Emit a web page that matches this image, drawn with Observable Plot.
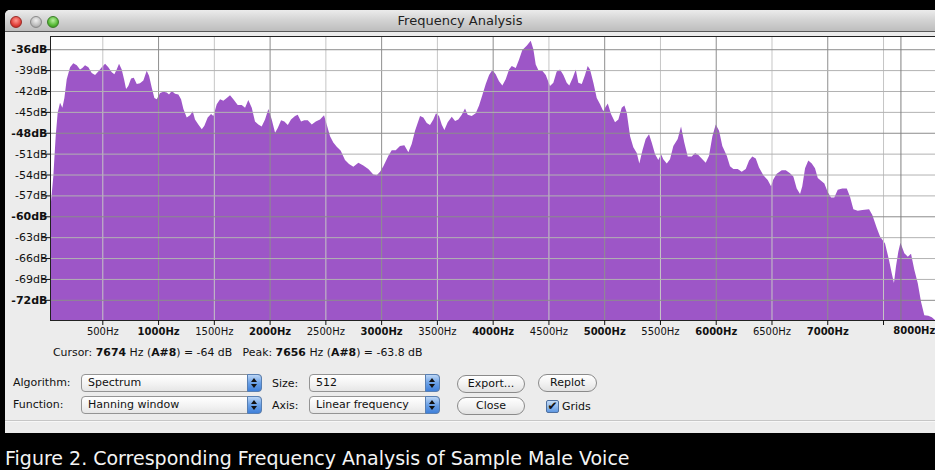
<!DOCTYPE html>
<html><head><meta charset="utf-8">
<script src="https://cdn.jsdelivr.net/npm/d3@7"></script>
<script src="https://cdn.jsdelivr.net/npm/@observablehq/plot@0.6"></script>
<style>
html,body{margin:0;padding:0;background:#000;}
#page{position:relative;width:935px;height:470px;overflow:hidden;background:#000;font-family:"DejaVu Sans",Verdana,sans-serif;color:#111;}
#win{position:absolute;left:5px;top:10px;width:940px;height:423px;background:#ececec;border-top-left-radius:5px;}
#titlebar{position:absolute;left:5px;top:10px;width:940px;height:21px;background:linear-gradient(#ececec,#d2d2d2 50%,#bdbdbd);border-bottom:1px solid #5a5a5a;border-top-left-radius:5px;}
#title{position:absolute;left:0;top:13px;width:920px;text-align:center;font-size:13px;line-height:16px;color:#222;}
.dot{position:absolute;top:16px;width:12px;height:12px;border-radius:50%;box-sizing:border-box;}
#chart{position:absolute;left:0;top:32px;}
.lbl{position:absolute;font-size:11px;line-height:14px;white-space:nowrap;}
.sel{position:absolute;height:18px;border:1px solid #949494;border-radius:4px;background:linear-gradient(#fff,#f4f4f4 50%,#e6e6e6);box-sizing:border-box;font-size:11px;line-height:15px;padding-left:6px;white-space:nowrap;}
.step{position:absolute;right:-1px;top:-1px;width:15px;height:18px;box-sizing:border-box;background:linear-gradient(#bcd6f5,#6aa0e6 50%,#3f80da);border:1px solid #587fb2;border-radius:0 4px 4px 0;}
.step:before,.step:after{content:"";position:absolute;left:3px;border-left:3.5px solid transparent;border-right:3.5px solid transparent;}
.step:before{top:3px;border-bottom:4px solid #111;}
.step:after{top:9px;border-top:4px solid #111;}
.btn{position:absolute;height:18px;border:1px solid #8a8a8a;border-radius:9px;background:linear-gradient(#fff,#f2f2f2 50%,#e2e2e2);text-align:center;font-size:11px;line-height:16px;box-sizing:border-box;}
.chk{position:absolute;width:13px;height:13px;box-sizing:border-box;border:1px solid #4d6f9f;border-radius:2px;background:linear-gradient(#c4dcf7,#5f98e2);font-size:12px;line-height:11px;text-align:center;color:#111;}
#sep{position:absolute;left:5px;top:420px;width:930px;height:1px;background:#c6c6c6;border-bottom:1px solid #f7f7f7;}
#cursor{position:absolute;left:53px;top:346px;font-size:10.9px;line-height:14px;white-space:pre;}
#caption{position:absolute;left:5px;top:447px;font-size:19px;line-height:22px;color:#f4f4f4;white-space:nowrap;}
</style></head>
<body>
<div id="page">
  <div id="win"></div>
  <div id="titlebar"></div>
  <div class="dot" style="left:10px;background:radial-gradient(circle at 50% 35%,#ff9a92,#e0403a 60%,#a51d18);border:1px solid #9b2a25"></div>
  <div class="dot" style="left:30px;background:radial-gradient(circle at 50% 35%,#f0f0f0,#bdbdbd 60%,#8e8e8e);border:1px solid #8a8a8a"></div>
  <div class="dot" style="left:47px;background:radial-gradient(circle at 50% 35%,#b8f0a0,#55b834 60%,#2f7d18);border:1px solid #3a7d27"></div>
  <div id="title">Frequency Analysis</div>
  <div id="chart"></div>
  <div id="cursor">Cursor: <b>7674</b> Hz (<b>A#8</b>) = -64 dB   Peak: <b>7656</b> Hz (<b>A#8</b>) = -63.8 dB</div>
  <div class="lbl" style="left:13px;top:376px">Algorithm:</div>
  <div class="sel" style="left:81px;top:374px;width:181px">Spectrum<i class="step"></i></div>
  <div class="lbl" style="left:272px;top:377px">Size:</div>
  <div class="sel" style="left:309px;top:374px;width:131px">512<i class="step"></i></div>
  <div class="btn" style="left:457px;top:375px;width:68px">Export...</div>
  <div class="btn" style="left:538px;top:374px;width:59px">Replot</div>
  <div class="lbl" style="left:13px;top:398px">Function:</div>
  <div class="sel" style="left:81px;top:396px;width:181px">Hanning window<i class="step"></i></div>
  <div class="lbl" style="left:272px;top:399px">Axis:</div>
  <div class="sel" style="left:309px;top:396px;width:131px">Linear frequency<i class="step"></i></div>
  <div class="btn" style="left:457px;top:397px;width:68px">Close</div>
  <div class="chk" style="left:546px;top:400px">✔</div>
  <div class="lbl" style="left:562px;top:400px">Grids</div>
  <div id="sep"></div>
  <div id="caption">Figure 2. Corresponding Frequency Analysis of Sample Male Voice</div>
</div>
<script>
const freqHz = [31, 61, 82, 100, 121, 142, 160, 181, 211, 240, 271, 300, 321, 345, 375, 405, 435, 464, 495, 525, 554, 585, 608, 629, 650, 674, 695, 713, 733, 758, 782, 809, 838, 868, 898, 919, 943, 967, 988, 1018, 1047, 1078, 1098, 1123, 1152, 1182, 1206, 1227, 1257, 1287, 1311, 1331, 1361, 1392, 1415, 1445, 1475, 1496, 1526, 1556, 1585, 1616, 1645, 1675, 1714, 1750, 1780, 1809, 1840, 1869, 1899, 1929, 1959, 1989, 2019, 2049, 2073, 2103, 2132, 2163, 2192, 2228, 2252, 2282, 2311, 2342, 2378, 2414, 2452, 2488, 2512, 2542, 2571, 2602, 2638, 2676, 2712, 2751, 2796, 2840, 2885, 2930, 2961, 2990, 3020, 3065, 3095, 3131, 3169, 3208, 3244, 3274, 3304, 3349, 3378, 3409, 3438, 3468, 3492, 3519, 3543, 3567, 3597, 3633, 3663, 3692, 3723, 3752, 3776, 3812, 3848, 3878, 3907, 3938, 3968, 3997, 4027, 4057, 4087, 4117, 4147, 4171, 4207, 4236, 4266, 4305, 4341, 4365, 4386, 4409, 4445, 4476, 4514, 4544, 4574, 4604, 4634, 4664, 4687, 4718, 4745, 4768, 4799, 4828, 4852, 4873, 4903, 4933, 4963, 4992, 5008, 5032, 5061, 5097, 5127, 5157, 5181, 5202, 5232, 5261, 5292, 5315, 5342, 5372, 5402, 5426, 5456, 5485, 5510, 5530, 5561, 5590, 5620, 5659, 5689, 5718, 5749, 5785, 5815, 5844, 5880, 5910, 5940, 5970, 6000, 6030, 6059, 6099, 6128, 6158, 6197, 6233, 6269, 6299, 6328, 6359, 6388, 6427, 6466, 6496, 6516, 6547, 6592, 6628, 6666, 6696, 6726, 6756, 6776, 6801, 6830, 6861, 6890, 6915, 6944, 6974, 7004, 7034, 7063, 7094, 7135, 7175, 7204, 7234, 7273, 7315, 7375, 7404, 7444, 7473, 7518, 7554, 7578, 7598, 7616, 7637, 7656, 7691, 7722, 7751, 7781, 7811, 7841, 7870, 7906, 7937, 7966];
const levelDb = [-59.5, -54.2, -48.5, -45.1, -43.7, -44.4, -43.0, -40.3, -38.6, -38.0, -38.3, -38.9, -38.7, -38.3, -38.6, -39.4, -39.7, -39.2, -38.6, -38.1, -38.6, -39.3, -39.6, -38.9, -38.1, -38.9, -40.3, -41.7, -41.3, -40.2, -40.1, -41.0, -40.9, -40.5, -39.1, -39.8, -41.5, -43.0, -43.2, -42.3, -42.1, -42.2, -42.5, -42.0, -42.4, -42.5, -43.2, -44.6, -45.8, -45.5, -44.9, -46.1, -46.8, -47.5, -47.0, -45.8, -45.3, -45.6, -43.9, -43.2, -43.4, -43.0, -42.6, -43.2, -44.0, -44.0, -44.4, -43.3, -44.4, -46.4, -46.8, -47.1, -46.1, -44.6, -46.1, -48.0, -47.3, -46.2, -46.4, -46.9, -46.1, -45.6, -45.4, -46.4, -46.2, -46.2, -46.8, -46.4, -46.1, -45.5, -46.8, -48.5, -49.4, -50.0, -50.6, -51.9, -52.5, -52.9, -52.3, -52.7, -53.2, -54.0, -54.1, -53.6, -52.8, -51.3, -50.5, -50.5, -49.9, -49.8, -50.8, -49.6, -47.7, -45.6, -45.8, -46.6, -46.9, -46.1, -45.2, -45.6, -46.8, -47.6, -46.5, -45.7, -46.3, -46.1, -45.4, -44.5, -45.4, -45.6, -45.2, -44.1, -42.6, -41.0, -39.7, -39.0, -39.6, -40.6, -41.2, -40.3, -38.9, -38.4, -38.7, -37.5, -36.1, -35.5, -34.8, -36.0, -38.2, -39.0, -39.1, -39.7, -41.3, -40.8, -39.2, -38.9, -39.7, -40.8, -41.2, -40.1, -38.9, -40.8, -41.0, -39.7, -38.4, -38.9, -40.8, -43.0, -43.9, -44.9, -44.4, -43.8, -45.3, -46.5, -46.1, -44.4, -44.1, -45.1, -48.5, -50.1, -50.9, -52.4, -50.6, -48.9, -48.2, -49.4, -51.1, -51.9, -51.1, -51.8, -52.4, -51.8, -49.9, -48.9, -47.1, -49.4, -51.4, -51.4, -50.9, -51.2, -51.8, -52.3, -51.3, -48.5, -46.8, -47.7, -49.9, -51.3, -52.8, -53.2, -53.2, -53.6, -53.2, -52.0, -51.4, -51.7, -53.0, -54.1, -54.8, -55.7, -54.7, -53.9, -53.4, -53.4, -53.8, -54.3, -56.0, -56.8, -55.7, -53.1, -52.0, -52.4, -53.1, -54.5, -54.9, -55.3, -56.5, -57.3, -57.3, -56.2, -56.0, -56.0, -57.2, -59.0, -59.2, -59.1, -59.0, -59.8, -61.7, -62.9, -63.9, -66.3, -68.2, -69.6, -67.2, -65.1, -63.8, -65.3, -65.8, -65.4, -67.7, -69.6, -72.3, -74.2, -74.3, -74.5, -74.9];
const xTicksMajor = [1000, 2000, 3000, 4000, 5000, 6000, 7000];
const xTicksMinor = [500, 1500, 2500, 3500, 4500, 5500, 6500, 7500];
const xUnlabeled = [7500];
const xEdgeLabel = [8000];
const yTicksMajor = [-36, -48, -60, -72];
const yTicksMinor = [-39, -42, -45, -51, -54, -57, -63, -66, -69];
const xDomain = [31, 7966];
const yDomain = [-74.9, -34.1];
const cursorHz = [7656];

const spectrum = freqHz.map((f, i) => ({f, db: levelDb[i]}));
const font = "DejaVu Sans, Verdana, sans-serif";

const chart = Plot.plot({
  width: 935, height: 310,
  marginTop: 4, marginBottom: 22, marginLeft: 50, marginRight: 0,
  style: {background: "transparent", fontFamily: font, fontSize: "10px", color: "#111", overflow: "visible"},
  x: {domain: xDomain},
  y: {domain: yDomain},
  marks: [
    Plot.frame({fill: "white", stroke: null}),
    Plot.areaY(spectrum, {x: "f", y1: yDomain[0], y2: "db", fill: "#9d56c7"}),
    Plot.gridX(xTicksMinor, {stroke: "#c6c6c6", strokeOpacity: 1}),
    Plot.gridX(xTicksMajor, {stroke: "#8e8e8e", strokeOpacity: 1}),
    Plot.gridY(yTicksMinor, {stroke: "#b2b2b2", strokeOpacity: 1}),
    Plot.gridY(yTicksMajor, {stroke: "#8c8c8c", strokeOpacity: 1}),
    Plot.ruleX(cursorHz, {stroke: "#808080"}),
    Plot.ruleX([xDomain[0]], {stroke: "#222"}),
    Plot.ruleY(yDomain, {stroke: "#222"}),
    Plot.axisX(xTicksMajor, {tickSize: 5, tickPadding: 2, tickFormat: d => `${d}Hz`, fontWeight: "bold", label: null}),
    Plot.axisX(xTicksMinor, {tickSize: 5, tickPadding: 2, tickFormat: d => xUnlabeled.includes(d) ? "" : `${d}Hz`, label: null}),
    Plot.text(xEdgeLabel, {x: d => d, frameAnchor: "bottom", lineAnchor: "middle", dy: 10.5, dx: -25, text: d => `${d}Hz`, fontWeight: "bold", fontSize: 10}),
    Plot.axisY(yTicksMajor, {tickSize: 8, tickPadding: -5, tickFormat: d => `${d}dB`, fontWeight: "bold", fontSize: 11, label: null}),
    Plot.axisY(yTicksMinor, {tickSize: 8, tickPadding: -5, tickFormat: d => `${d}dB`, fontSize: 11, label: null})
  ]
});
document.getElementById("chart").appendChild(chart);
</script>
</body></html>
